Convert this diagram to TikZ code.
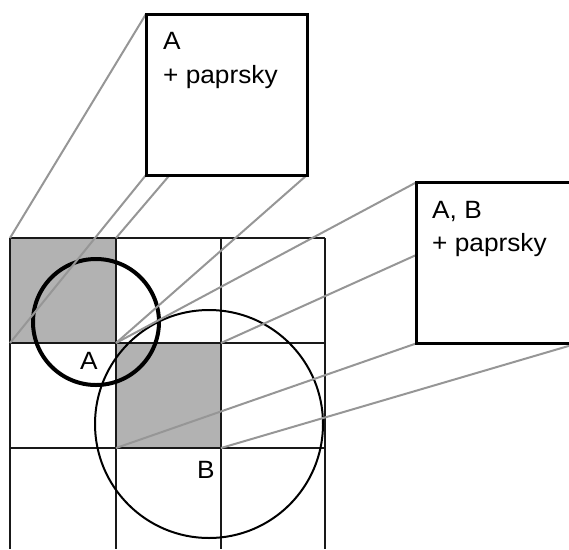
\documentclass[tikz,border=0pt]{standalone}
\usepackage{fontspec}
\setmainfont{Liberation Sans}
\newfontfamily\widesans[FakeStretch=1.05]{Liberation Sans}
\definecolor{raygray}{RGB}{150,150,150}
\definecolor{cellgray}{RGB}{178,178,178}
\begin{document}
\begin{tikzpicture}[x=1pt,y=-1pt,
  gridline/.style={line width=2.6pt,black!90},
  ray/.style={line width=2pt,raygray},
  viewbox/.style={draw,line width=3pt,fill=white,minimum width=161pt,minimum height=161pt,inner sep=0pt,outer sep=0pt},
  txt/.style={font=\widesans\fontsize{25pt}{30pt}\selectfont,inner sep=0pt,anchor=base west},
  lbl/.style={font=\widesans\fontsize{25pt}{30pt}\selectfont,inner sep=0pt}]
\useasboundingbox (0,0) rectangle (569,549);
\clip (0,0) rectangle (569,549);
% grid points
\foreach \i/\x in {0/10,1/116,2/221,3/325}{
  \foreach \j/\y in {0/238,1/343,2/448,3/549}{
    \coordinate (g\i\j) at (\x,\y);
  }
}
% shaded cells
\fill[cellgray] (g00) rectangle (g11);
\fill[cellgray] (g11) rectangle (g22);
% grid
\draw[gridline] (g00) -- (g30);
\draw[gridline] (g01) -- (g31);
\draw[gridline] (g02) -- (g32);
\draw[gridline] (g00) -- (g03);
\draw[gridline] (g10) -- (g13);
\draw[gridline] (g20) -- (g23);
\draw[gridline] (g30) -- (g33);
% circles
\draw[line width=4pt] (96,322) circle[radius=63pt];
\draw[line width=2pt] (209,424) circle[radius=114pt];
% labels
\node[lbl] (la) at (89,361) {A};
\node[lbl] (lb) at (206,470) {B};
% boxes (positions)
\coordinate (b1c) at (226.5,94.5);
\coordinate (b2c) at (496.5,263);
\path (b1c) node[viewbox,draw=none,fill=none] (box1) {};
\path (b2c) node[viewbox,draw=none,fill=none] (box2) {};
% rays
\draw[ray] (box1.north west) -- (g00);
\draw[ray] (box1.south west) -- (g01);
\draw[ray] (box1.north east) -- (g10);
\draw[ray] (box1.south east) -- (g11);
\draw[ray] (box2.north west) -- (g11);
\draw[ray] (box2.south west) -- (g12);
\draw[ray] (box2.north east) -- (g21);
\draw[ray] (box2.south east) -- (g22);
% boxes drawn
\node[viewbox] (box1f) at (b1c) {};
\node[viewbox] (box2f) at (b2c) {};
\node[txt] (t1a) at (163,49.5) {A};
\node[txt] (t1b) at (163,83) {+ paprsky};
\node[txt] (t2a) at (432,218) {A, B};
\node[txt] (t2b) at (432,251) {+ paprsky};
\end{tikzpicture}
\end{document}
